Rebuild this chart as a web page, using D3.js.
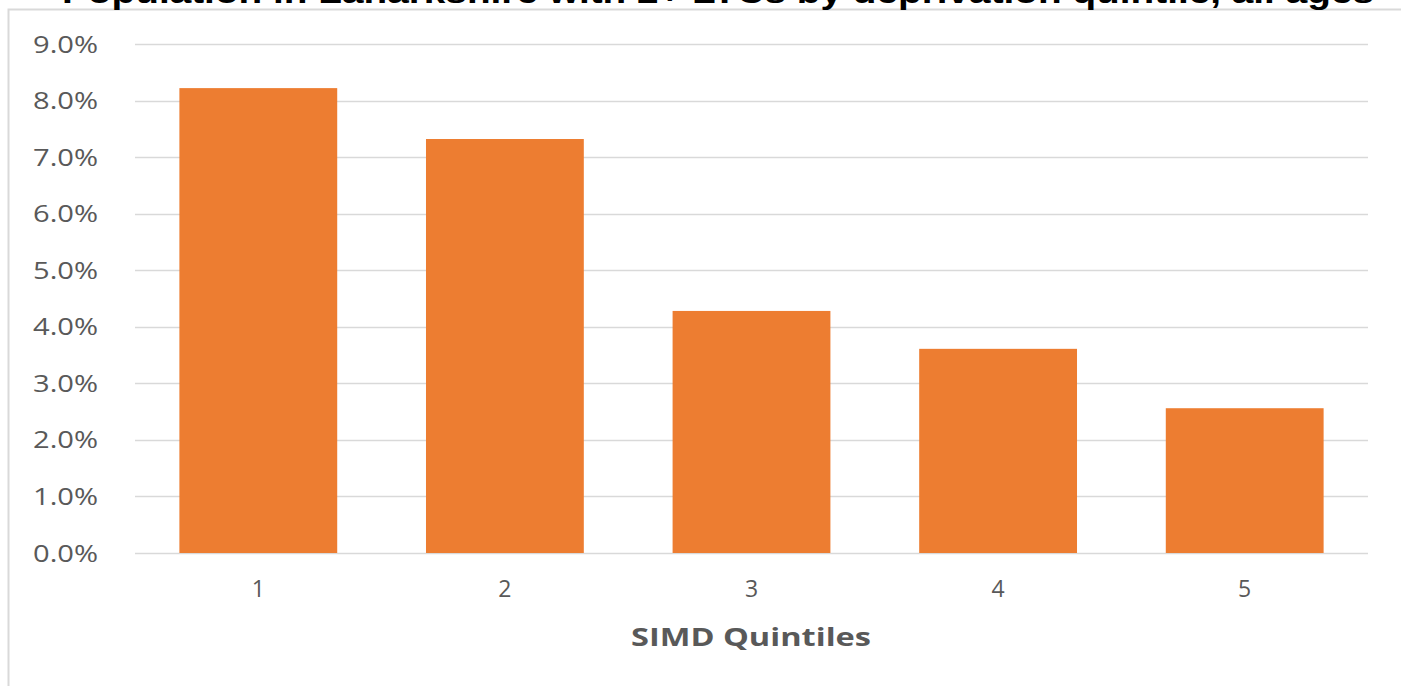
<!DOCTYPE html>
<html>
<head>
<meta charset="utf-8">
<script src="https://cdn.jsdelivr.net/npm/d3@7"></script>
<style>
  body { margin: 0; background: #fff; }
  svg { display: block; }
</style>
</head>
<body>
<svg id="chart" width="1401" height="686"></svg>
<script>
// data
const quintiles = ["1", "2", "3", "4", "5"];
const ltcShare = [8.22, 7.32, 4.28, 3.61, 2.56];
const yTicks = [0, 1, 2, 3, 4, 5, 6, 7, 8, 9];
const chartTitle = "Population in Lanarkshire with 2+ LTCs by deprivation quintile, all ages";
const xTitle = "SIMD Quintiles";

const svg = d3.select("#chart");
const W = 1401, H = 686;
const margin = {top: 44, right: 33, bottom: 133, left: 135};

// chart frame (runs off the right and bottom edge)
svg.append("rect")
    .attr("x", 8.5).attr("y", 9.5)
    .attr("width", W + 10).attr("height", H + 10)
    .attr("fill", "#fff")
    .attr("stroke", "#d9d9d9")
    .attr("stroke-width", 2);

// title is clipped by the top of the page, as in the original
svg.append("text")
    .attr("x", 718).attr("y", 3)
    .attr("text-anchor", "middle")
    .attr("font-family", "Liberation Sans, Arial, sans-serif")
    .attr("font-weight", "bold")
    .attr("font-size", 31)
    .attr("fill", "#000")
    .attr("textLength", 1312)
    .attr("lengthAdjust", "spacingAndGlyphs")
    .text(chartTitle);

var x = d3.scaleBand()
    .domain(quintiles)
    .range([margin.left, W - margin.right])
    .paddingInner(0.36)
    .paddingOuter(0.18);

var y = d3.scaleLinear()
    .domain([0, 9])
    .range([H - margin.bottom, margin.top]);

// gridlines
svg.append("g")
    .selectAll("line")
    .data(yTicks)
    .enter()
    .append("line")
    .attr("x1", margin.left).attr("x2", W - margin.right)
    .attr("y1", d => Math.round(y(d)) + 0.5)
    .attr("y2", d => Math.round(y(d)) + 0.5)
    .attr("stroke", "#d9d9d9")
    .attr("stroke-width", 1.5);

// bars
svg.append("g")
    .selectAll("rect")
    .data(ltcShare)
    .enter()
    .append("rect")
    .attr("x", (d, i) => x(quintiles[i]))
    .attr("width", x.bandwidth())
    .attr("y", d => y(d))
    .attr("height", d => y(0) - y(d))
    .attr("fill", "#ed7d31");

// y axis labels (the original is a bit stretched sideways)
var yAxis = svg.append("g")
    .attr("transform", "translate(" + (margin.left - 34) + ",0)")
    .call(d3.axisLeft(y).tickValues(yTicks).tickSize(0).tickFormat(d => d.toFixed(1) + "%"));
yAxis.select(".domain").remove();
yAxis.selectAll("text")
    .attr("font-family", "Open Sans, sans-serif")
    .attr("font-size", 23)
    .attr("fill", "#595959")
    .attr("dy", "0.35em")
    .attr("textLength", 65)
    .attr("lengthAdjust", "spacingAndGlyphs");

// x axis labels
var xAxis = svg.append("g")
    .attr("transform", "translate(0," + (H - margin.bottom) + ")")
    .call(d3.axisBottom(x).tickSize(0).tickPadding(28));
xAxis.select(".domain").remove();
xAxis.selectAll("text")
    .attr("font-family", "Open Sans, sans-serif")
    .attr("font-size", 23)
    .attr("fill", "#595959");

svg.append("text")
    .attr("x", 751)
    .attr("y", 646)
    .attr("text-anchor", "middle")
    .attr("font-family", "Open Sans, sans-serif")
    .attr("font-weight", "bold")
    .attr("font-size", 25)
    .attr("fill", "#595959")
    .attr("textLength", 240)
    .attr("lengthAdjust", "spacingAndGlyphs")
    .text(xTitle);
</script>
</body>
</html>
